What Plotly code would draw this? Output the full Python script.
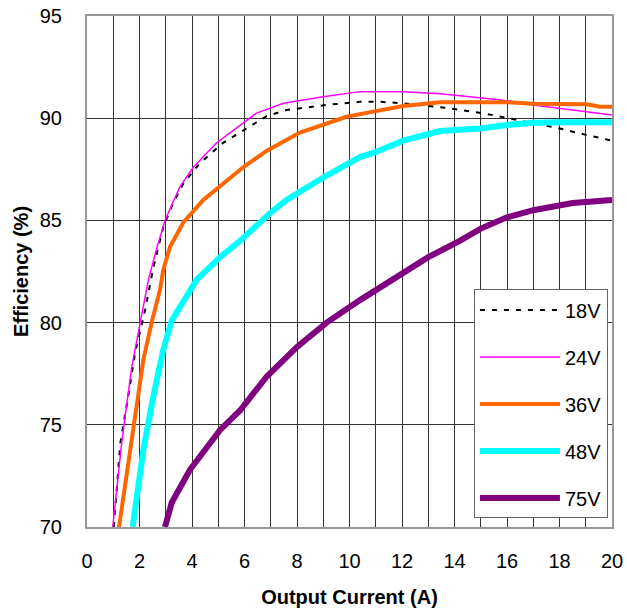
import plotly.graph_objects as go

# ---- data ----
x18 = [1.02, 1.27, 1.57, 1.83, 2.21, 2.53, 2.91, 3.3, 3.67, 4.3, 5.19, 5.95, 6.84, 7.6, 9.13, 10.4, 11.2, 12.05, 12.94, 13.83, 15.1, 16.0, 16.75, 18.0, 18.9, 20.0]
y18 = [70.0, 74.1, 76.4, 78.5, 80.6, 82.7, 84.7, 85.9, 86.8, 87.8, 88.8, 89.4, 90.1, 90.4, 90.65, 90.8, 90.8, 90.73, 90.6, 90.48, 90.24, 90.0, 89.83, 89.5, 89.22, 88.9]

x24 = [0.98, 1.32, 1.70, 2.02, 2.34, 2.65, 2.97, 3.54, 4.05, 4.94, 6.08, 6.46, 7.48, 9.0, 10.4, 12.05, 13.45, 15.7, 17.0, 18.0, 20.0]
y24 = [70.0, 74.1, 77.8, 80.0, 82.1, 83.6, 85.0, 86.65, 87.6, 88.8, 89.9, 90.25, 90.73, 91.05, 91.3, 91.3, 91.2, 90.9, 90.65, 90.48, 90.16]

x36 = [1.22, 1.64, 2.02, 2.15, 2.46, 2.78, 2.91, 3.16, 3.67, 4.43, 5.95, 6.84, 8.11, 9.89, 10.9, 12.05, 13.45, 16.0, 17.0, 19.04, 19.54, 20.0]
y36 = [70.0, 73.8, 77.0, 78.2, 80.0, 81.6, 82.6, 83.7, 84.9, 86.0, 87.6, 88.4, 89.3, 90.07, 90.32, 90.6, 90.78, 90.78, 90.71, 90.68, 90.56, 90.56]

x48 = [1.74, 2.15, 2.53, 2.91, 3.23, 3.92, 4.18, 5.07, 5.83, 6.97, 7.6, 9.0, 10.4, 10.9, 12.05, 13.45, 14.97, 16.0, 17.0, 18.0, 20.0]
y48 = [70.0, 73.8, 76.4, 78.7, 80.1, 81.6, 82.1, 83.2, 84.0, 85.35, 86.0, 87.1, 88.1, 88.3, 88.9, 89.37, 89.5, 89.67, 89.78, 89.8, 89.8]

x75 = [2.97, 3.23, 3.92, 5.07, 5.83, 6.84, 7.99, 9.13, 10.4, 11.0, 12.0, 13.0, 14.2, 15.0, 16.0, 17.0, 18.5, 19.04, 20.0]
y75 = [70.0, 71.2, 72.8, 74.75, 75.7, 77.35, 78.8, 80.0, 81.1, 81.6, 82.4, 83.2, 84.0, 84.6, 85.15, 85.5, 85.85, 85.9, 86.0]

names = ["18V", "24V", "36V", "48V", "75V"]
colors = ["#000000", "#ff00ff", "#ff6600", "#00ffff", "#800080"]
widths = [2, 1.5, 4, 6, 6]
dashes = ["5px,7px", "solid", "solid", "solid", "solid"]

xticks = list(range(0, 21, 2))
yticks = [70, 75, 80, 85, 90, 95]

FONT = "Liberation Sans, Arial, sans-serif"

fig = go.Figure()
for i, (xs, ys) in enumerate([(x18, y18), (x24, y24), (x36, y36), (x48, y48), (x75, y75)]):
    fig.add_trace(go.Scatter(
        x=xs, y=ys, mode="lines", name=names[i], legendgroup=names[i],
        line=dict(color=colors[i], width=widths[i], dash=dashes[i]),
    ))

fig.update_layout(
    width=627, height=612,
    margin=dict(l=87, r=15, t=16, b=85, autoexpand=False),
    paper_bgcolor="white", plot_bgcolor="white",
    font=dict(family=FONT, size=20, color="black"),
    showlegend=True,
    legend=dict(
        x=0.737, y=0.465, xanchor="left", yanchor="top",
        bgcolor="white", bordercolor="#666", borderwidth=1,
        font=dict(size=20, family=FONT),
        itemwidth=80, tracegroupgap=18,
    ),
    xaxis=dict(
        range=[0, 20], tickvals=xticks, ticktext=[str(v) for v in xticks],
        showgrid=True, gridcolor="#333", gridwidth=1,
        minor=dict(dtick=1, showgrid=True, gridcolor="#333", gridwidth=1),
        showline=True, linecolor="#999", linewidth=2, mirror=True,
        ticks="", ticklabelstandoff=15, zeroline=False, automargin=False,
        ticklabeloverflow="allow",
        title=dict(text="<b>Output Current (A)</b>", font=dict(size=20), standoff=19),
    ),
    yaxis=dict(
        range=[70, 95], tickvals=yticks, ticktext=[str(v) for v in yticks],
        showgrid=True, gridcolor="#333", gridwidth=1,
        showline=True, linecolor="#999", linewidth=2, mirror=True,
        ticks="", ticklabelstandoff=19, zeroline=False, automargin=False,
        ticklabeloverflow="allow",
        title=dict(text="<b>Efficiency (%)</b>", font=dict(size=20), standoff=6),
    ),
)

# remove the default 8px page margin so the figure fills the window exactly
fig.write_html("out.html", config={"displayModeBar": False},
               post_script="document.body.style.margin='0px';")
